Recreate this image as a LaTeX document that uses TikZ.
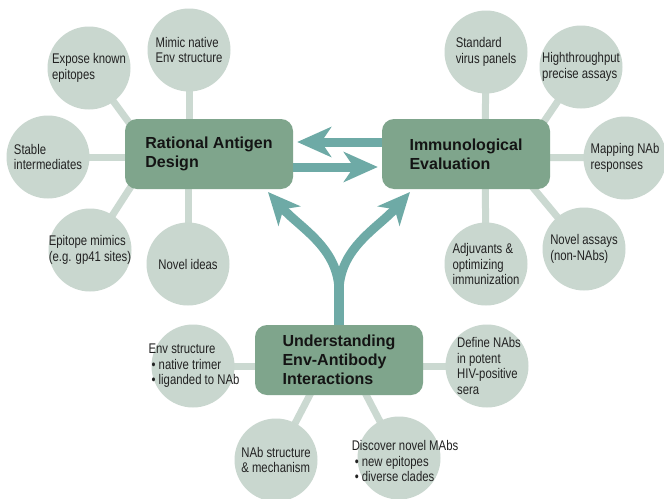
\documentclass[tikz,border=0pt]{standalone}
\usepackage{fontspec}
\setmainfont{Liberation Sans}
\newfontfamily\bubfont[FakeStretch=0.81]{Liberation Sans}
\newfontfamily\boxfont{Liberation Sans}
\usetikzlibrary{arrows.meta}
\definecolor{boxgreen}{RGB}{127,165,140}
\definecolor{bubgray}{RGB}{201,215,207}
\definecolor{spokec}{RGB}{203,217,209}
\definecolor{arrowteal}{RGB}{110,170,166}
\definecolor{txtgray}{RGB}{34,34,34}
\pgfdeclarelayer{bgbg}
\pgfdeclarelayer{bg}
\pgfsetlayers{bgbg,bg,main}
\tikzset{
  bub/.style={circle, fill=bubgray, minimum size=83pt, inner sep=0pt},
  btxt/.style={align=left, font=\bubfont\fontsize{14}{15.5}\selectfont, text=txtgray, inner sep=0pt},
  mainbox/.style={rounded corners=12pt, fill=boxgreen, minimum width=168pt, minimum height=70pt,
    align=left, font=\boxfont\bfseries\fontsize{16}{19}\selectfont, text=black!92, inner sep=0pt},
  spoke/.style={draw=spokec, line width=7pt},
  bigarrow/.style={draw=arrowteal, line width=9pt, -{Stealth[length=34pt,width=30pt,inset=10pt]}},
  ybranch/.style={draw=arrowteal, line width=9pt, -{Stealth[length=32pt,width=29pt,inset=9pt]}},
}
\begin{document}
\begin{tikzpicture}[x=1pt,y=-1pt]
\useasboundingbox (0,0) rectangle (664,498);
\begin{pgfonlayer}{bgbg}
\fill[white] (0,0) rectangle (664,498);
\end{pgfonlayer}

% main boxes
\node[mainbox] (rat) at (209,154) {Rational Antigen\\Design};
\node[mainbox] (imm) at (466,154) {Immunological\\Evaluation};
\node[mainbox] (und) at (339,360) {Understanding\\Env-Antibody\\Interactions};

% circles
\node[bub] (expose) at (89,68) {};
\node[btxt] (expose-t) at (expose) {Expose known\\epitopes};
\node[bub] (mimic) at (189,50) {};
\node[btxt] (mimic-t) at (mimic) {Mimic native\\Env structure};
\node[bub] (stable) at (48,157) {};
\node[btxt] (stable-t) at (stable) {Stable\\intermediates};
\node[bub] (epimim) at (90,250) {};
\node[btxt] (epimim-t) at (epimim) {Epitope mimics\\(e.g. gp41 sites)};
\node[bub] (novel) at (188,264) {};
\node[btxt] (novel-t) at (novel) {Novel ideas};

\node[bub] (stand) at (486,52) {};
\node[btxt] (stand-t) at (stand) {Standard\\virus panels};
\node[bub] (high) at (581,67) {};
\node[btxt] (high-t) at (high) {Highthroughput\\precise assays};
\node[bub] (map) at (625,158) {};
\node[btxt] (map-t) at (map) {Mapping NAb\\responses};
\node[bub] (nassay) at (584,249) {};
\node[btxt] (nassay-t) at (nassay) {Novel assays\\(non-NAbs)};
\node[bub] (adj) at (486,264) {};
\node[btxt] (adj-t) at (adj) {Adjuvants \&\\optimizing\\immunization};

\node[bub] (env) at (193,366) {};
\node[btxt] (env-t) at (194,366) {Env structure\\\hspace*{3pt}• native trimer\\\hspace*{3pt}• liganded to NAb};
\node[bub] (define) at (487,366) {};
\node[btxt] (define-t) at (489,366) {Define NAbs\\in potent\\HIV-positive\\sera};
\node[bub] (nabs) at (276,460) {};
\node[btxt] (nabs-t) at (276,460) {NAb structure\\\& mechanism};
\node[bub] (disc) at (399,458) {};
\node[btxt] (disc-t) at (405,461) {Discover novel MAbs\\\hspace*{3pt}• new epitopes\\\hspace*{3pt}• diverse clades};

% spoke targets inside boxes
\coordinate (rA) at (152,154);
\coordinate (rB) at (189,154);
\coordinate (rC) at (209,157);
\coordinate (rD) at (188,154);
\coordinate (iA) at (485,154);
\coordinate (iB) at (522,154);
\coordinate (iC) at (466,157);
\coordinate (iD) at (505,154);
\coordinate (uA) at (339,366);
\coordinate (uB) at (328,360);
\coordinate (uC) at (348,360);

\begin{pgfonlayer}{bg}
\draw[spoke] (expose.center) -- (rA);
\draw[spoke] (mimic.center) -- (rB);
\draw[spoke] (stable.center) -- (rC);
\draw[spoke] (epimim.center) -- (rA);
\draw[spoke] (novel.center) -- (rD);
\draw[spoke] (stand.center) -- (iA);
\draw[spoke] (high.center) -- (iB);
\draw[spoke] (map.center) -- (iC);
\draw[spoke] (nassay.center) -- (iD);
\draw[spoke] (adj.center) -- (iA);
\draw[spoke] (env.center) -- (uA);
\draw[spoke] (define.center) -- (uA);
\draw[spoke] (nabs.center) -- (uB);
\draw[spoke] (disc.center) -- (uC);
\end{pgfonlayer}

% arrows between boxes
\draw[bigarrow] ([yshift=12pt]imm.west) -- ([shift={(4pt,12pt)}]rat.east);
\draw[bigarrow] ([yshift=-13pt]rat.east) -- ([shift={(-4pt,-13pt)}]imm.west);

% Y arrow
\coordinate (fork) at (339,282);
\coordinate (tipL) at (268,192);
\coordinate (tipR) at (410,192);
\draw[draw=arrowteal, line width=10pt] (und.north) -- (fork);
\draw[ybranch] (339,292) .. controls (339,248) and (300,228) .. (tipL);
\draw[ybranch] (339,292) .. controls (339,248) and (378,228) .. (tipR);
\end{tikzpicture}
\end{document}
